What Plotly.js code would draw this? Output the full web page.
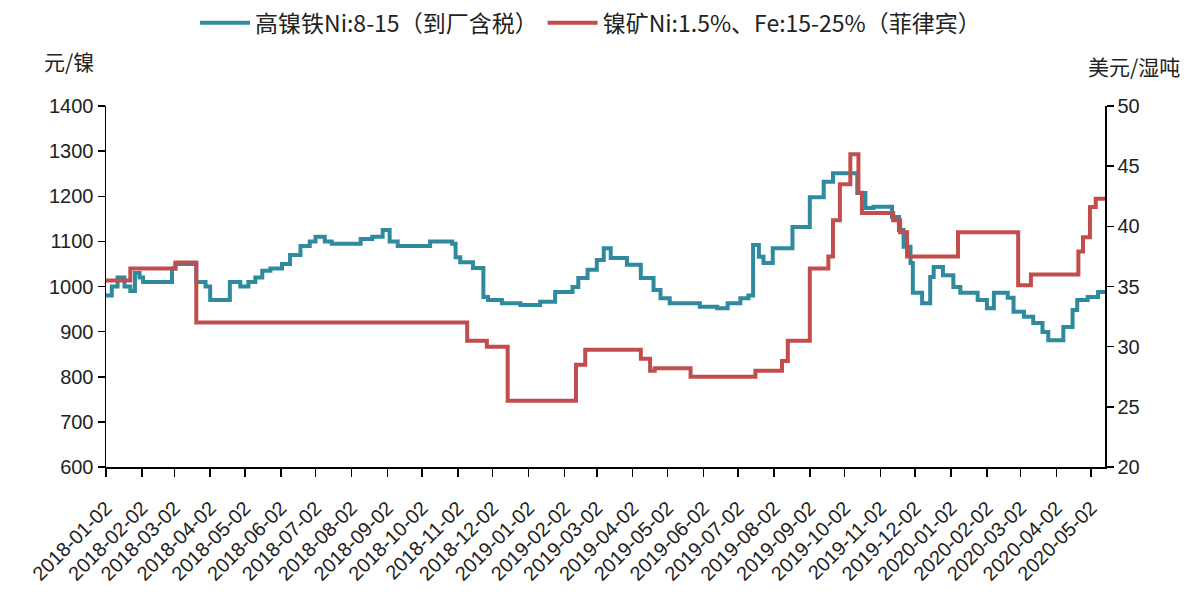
<!DOCTYPE html>
<html>
<head>
<meta charset="utf-8">
<script src="https://cdn.plot.ly/plotly-3.0.1.min.js"></script>
<style>html,body{margin:0;padding:0;background:#fff;}#chart{width:1188px;height:600px;}</style>
</head>
<body>
<div id="chart"></div>
<script>
// 高镍铁Ni:8-15（到厂含税） 元/镍 (left axis), step points
const ferroDates = ['2018-01-02','2018-01-07','2018-01-12','2018-01-18','2018-01-23','2018-01-27','2018-01-31','2018-02-03','2018-02-28','2018-03-03','2018-03-21','2018-03-29','2018-04-02','2018-04-19','2018-04-28','2018-05-05','2018-05-11','2018-05-17','2018-05-24','2018-06-03','2018-06-10','2018-06-19','2018-06-27','2018-07-02','2018-07-10','2018-07-16','2018-08-10','2018-08-20','2018-08-29','2018-09-04','2018-09-11','2018-10-09','2018-10-28','2018-10-31','2018-11-04','2018-11-15','2018-11-24','2018-11-28','2018-12-10','2018-12-26','2019-01-12','2019-01-25','2019-02-09','2019-02-14','2019-02-22','2019-03-02','2019-03-08','2019-03-14','2019-03-28','2019-04-09','2019-04-20','2019-04-26','2019-05-04','2019-05-30','2019-06-14','2019-06-23','2019-07-04','2019-07-11','2019-07-15','2019-07-20','2019-07-24','2019-08-01','2019-08-18','2019-09-02','2019-09-14','2019-09-22','2019-10-13','2019-10-20','2019-10-27','2019-11-12','2019-11-18','2019-11-22','2019-11-28','2019-11-30','2019-12-08','2019-12-15','2019-12-18','2019-12-26','2020-01-04','2020-01-10','2020-01-25','2020-02-02','2020-02-08','2020-02-20','2020-02-25','2020-03-05','2020-03-13','2020-03-21','2020-03-26','2020-04-08','2020-04-16','2020-04-20','2020-04-29','2020-05-08','2020-05-14'];
const ferroValues = [980,1000,1020,1000,990,1030,1020,1010,1040,1050,1010,1000,970,1010,1000,1010,1020,1035,1040,1050,1070,1090,1100,1110,1100,1095,1105,1110,1125,1100,1090,1100,1095,1065,1054,1041,977,970,963,959,966,988,999,1019,1037,1059,1085,1063,1048,1019,992,974,963,955,952,963,974,980,1092,1066,1052,1085,1132,1198,1232,1251,1207,1174,1177,1154,1125,1088,1052,986,963,1021,1043,1025,999,986,970,952,986,975,944,933,919,899,881,910,948,970,977,988,990];

// 镍矿Ni:1.5%、Fe:15-25%（菲律宾） 美元/湿吨 (right axis), step points
const oreDates = ['2018-01-02','2018-01-23','2018-03-03','2018-03-21','2018-11-10','2018-11-27','2018-12-15','2019-02-12','2019-02-20','2019-04-09','2019-04-17','2019-04-21','2019-05-22','2019-07-17','2019-08-09','2019-08-14','2019-09-02','2019-09-18','2019-09-22','2019-09-28','2019-10-07','2019-10-14','2019-10-17','2019-11-13','2019-11-19','2019-11-25','2020-01-08','2020-02-29','2020-03-11','2020-04-21','2020-04-25','2020-05-01','2020-05-06','2020-05-14'];
const oreValues = [35.5,36.5,37.0,32.0,30.5,30.0,25.5,28.5,29.75,29.0,28.0,28.2,27.5,28.0,28.8,30.5,36.5,37.5,40.5,43.5,46.0,42.8,41.1,40.5,39.5,37.5,39.5,35.1,36.0,37.9,39.1,41.6,42.3,42.3];

const tickDates = ['2018-01-02','2018-02-02','2018-03-02','2018-04-02','2018-05-02','2018-06-02','2018-07-02','2018-08-02','2018-09-02','2018-10-02','2018-11-02','2018-12-02','2019-01-02','2019-02-02','2019-03-02','2019-04-02','2019-05-02','2019-06-02','2019-07-02','2019-08-02','2019-09-02','2019-10-02','2019-11-02','2019-12-02','2020-01-02','2020-02-02','2020-03-02','2020-04-02','2020-05-02'];

const seriesNames = ['高镍铁Ni:8-15（到厂含税）','镍矿Ni:1.5%、Fe:15-25%（菲律宾）'];

const numFont = {family:'Liberation Sans, Arial, sans-serif', size:20, color:'#222'};
const cjkFont = 'Noto Sans CJK SC, Liberation Sans, sans-serif';

const traces = [
  {x: ferroDates, y: ferroValues, name: seriesNames[0], type:'scatter', mode:'lines',
   line:{color:'#2F8A9E', width:4, shape:'hv'}, yaxis:'y'},
  {x: oreDates, y: oreValues, name: seriesNames[1], type:'scatter', mode:'lines',
   line:{color:'#C24D4D', width:4, shape:'hv'}, yaxis:'y2'}
];

const layout = {
  width:1188, height:600,
  margin:{l:106, r:83, t:106, b:133},
  paper_bgcolor:'#fff', plot_bgcolor:'#fff',
  showlegend:true,
  legend:{orientation:'h', xref:'paper', x:0.485, xanchor:'center', yref:'container', y:0.962, yanchor:'middle',
          font:{family:cjkFont, size:23, color:'#222'}, itemwidth:50, traceorder:'normal'},
  xaxis:{type:'date', range:['2018-01-02','2020-05-14'], tickvals:tickDates, ticktext:tickDates,
         tickangle:-45, tickfont:{family:'Liberation Sans, Arial, sans-serif', size:20, color:'#222'},
         ticklabelstandoff:12,
         showgrid:false, zeroline:false, showline:true, linecolor:'#000', linewidth:1.5,
         ticks:'outside', ticklen:8, tickcolor:'#000', tickwidth:1.5},
  yaxis:{range:[600,1400], dtick:100, tick0:600, tickfont:numFont, showgrid:false, zeroline:false,
         showline:true, linecolor:'#000', linewidth:1.5, ticks:'outside', ticklen:7, tickcolor:'#000', tickwidth:1.5},
  yaxis2:{range:[20,50], dtick:5, tick0:20, overlaying:'y', side:'right', tickfont:numFont, showgrid:false, zeroline:false,
         showline:true, linecolor:'#000', linewidth:1.5, ticks:'outside', ticklen:7, tickcolor:'#000', tickwidth:1.5},
  annotations:[
    {text:'元/镍', xref:'paper', yref:'paper', x:-0.064, y:1.124, xanchor:'left', yanchor:'middle', showarrow:false,
     font:{family:cjkFont, size:21, color:'#222'}},
    {text:'美元/湿吨', xref:'paper', yref:'paper', x:1.077, y:1.112, xanchor:'right', yanchor:'middle', showarrow:false,
     font:{family:cjkFont, size:21, color:'#222'}}
  ]
};

Plotly.newPlot('chart', traces, layout, {displayModeBar:false, staticPlot:true});
</script>
</body>
</html>
